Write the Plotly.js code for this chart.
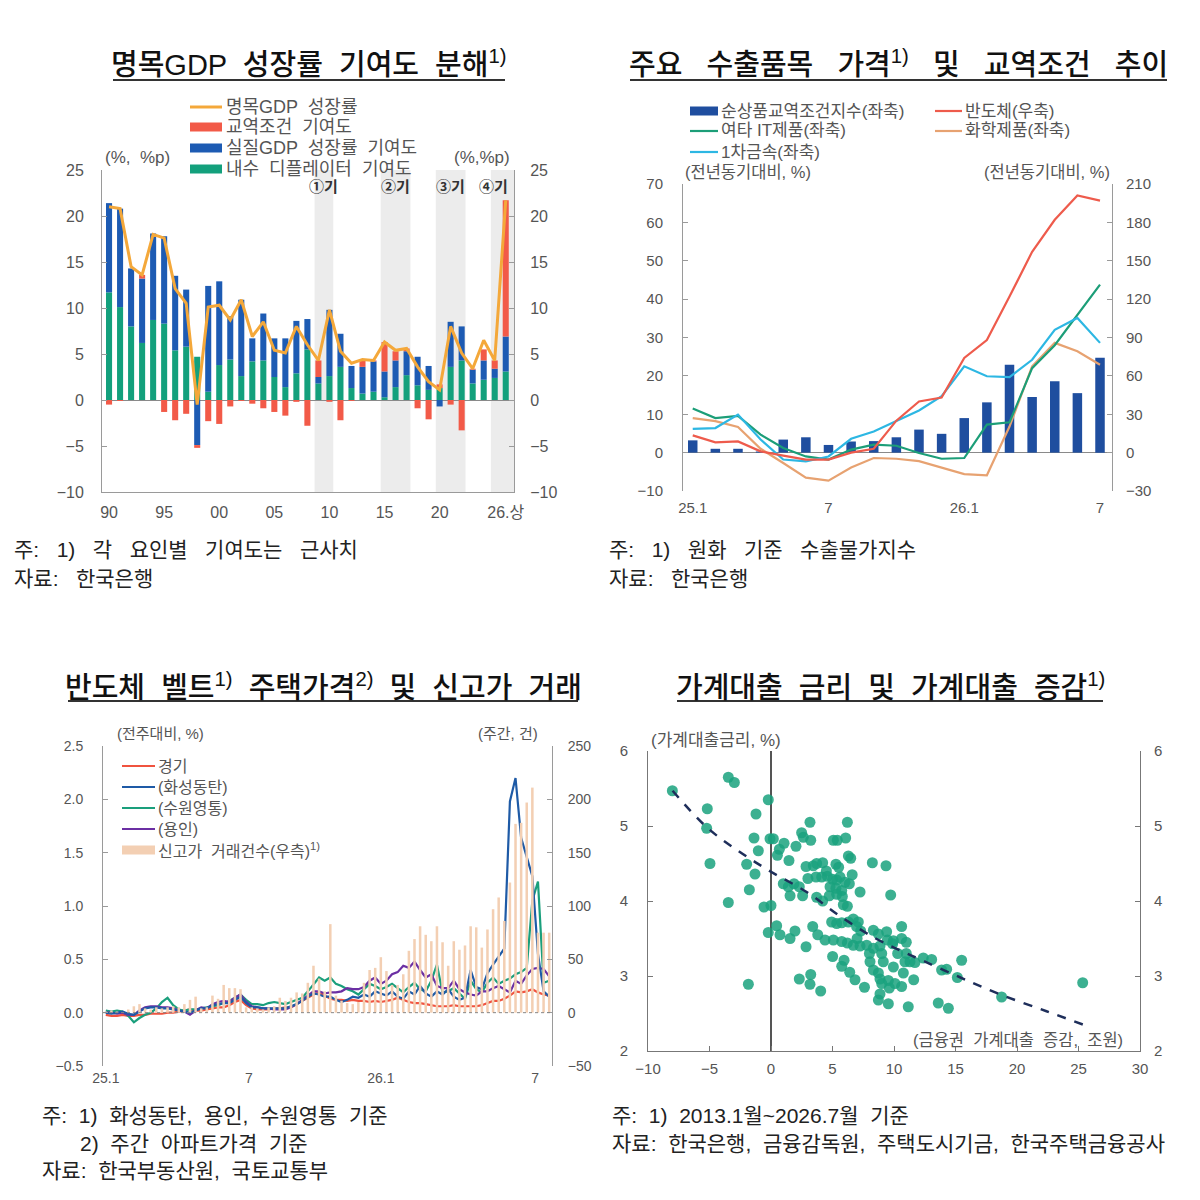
<!DOCTYPE html>
<html><head><meta charset="utf-8">
<script src="https://cdn.plot.ly/plotly-3.0.1.min.js"></script>
<style>body{margin:0;background:#fff}#chart{width:1200px;height:1200px}</style>
</head><body><div id="chart"></div>
<script>
// ===== Panel 1: 명목GDP 성장률 기여도 분해 =====
const p1Categories = ['1990','1991','1992','1993','1994','1995','1996','1997','1998','1999',
  '2000','2001','2002','2003','2004','2005','2006','2007','2008','2009',
  '2010','2011','2012','2013','2014','2015','2016','2017','2018','2019',
  '2020','2021','2022','2023','2024','2025','26.상'];
const p1Deflator = [11.7,10.1,8.0,6.2,8.7,8.3,5.4,5.8,4.7,0.9, 3.8,4.4,2.6,4.2,4.3,2.5,1.4,2.9,5.5,1.8, 2.6,3.6,1.3,0.7,0.9,0.3,1.4,2.7,1.6,1.1, 1.3,3.6,4.3,1.8,2.2,2.4,3.1];
const p1RealGDP = [9.7,10.7,6.3,7.0,9.4,9.5,8.1,6.2,-4.9,11.5, 9.1,4.7,8.3,2.5,5.1,4.2,5.3,5.7,3.3,0.7, 7.2,3.6,2.4,2.9,3.3,2.8,2.9,2.6,3.1,2.6, -0.7,4.9,3.7,1.5,2.1,1.0,3.8];
const p1TradeTerms = [-0.5,-0.1,0,0.4,0,-1.3,-2.2,-1.5,-0.3,-2.3, -2.6,-0.7,-0.1,-0.4,-0.9,-1.3,-1.7,-0.2,-2.8,1.8, -0.2,-2.2,-0.1,0.8,0.1,3.2,1.0,0.3,-0.9,-2.1, 0.4,-0.5,-3.3,0.1,1.2,0.9,14.8];
const p1Nominal = [21.0,20.8,14.5,13.6,18.0,17.6,12.1,10.5,-0.5,10.1, 10.3,8.7,10.9,6.9,8.5,5.4,5.1,8.0,6.0,4.3, 9.8,5.3,4.0,4.4,4.3,6.3,5.4,5.6,3.6,2.0, 1.1,8.0,5.1,3.4,6.5,4.3,21.7];
const p1TickVals = ['1990','1995','2000','2005','2010','2015','2020','26.상'];
const p1TickText = ['90','95','00','05','10','15','20','26.상'];
const p1PeriodLabels = ['①기','②기','③기','④기'];
const p1PeriodStart = ['2009','2015','2020','2025'];
const p1PeriodEnd = ['2010','2017','2022','26.상'];
const p1LegendNames = ['명목GDP  성장률','교역조건  기여도','실질GDP  성장률  기여도','내수  디플레이터  기여도'];

// ===== Panel 2: 주요 수출품목 가격 및 교역조건 추이 =====
const p2Months = ['25.1','25.2','25.3','25.4','25.5','25.6','25.7','25.8','25.9','25.10','25.11','25.12',
  '26.1','26.2','26.3','26.4','26.5','26.6','26.7'];
const p2TermsOfTrade = [3.2,1.0,1.0,0.3,3.4,4.0,2.0,2.9,3.0,4.0,6.0,4.9,9.0,13.1,22.9,14.5,18.6,15.5,24.7];
const p2Semiconductor = [13.5,8,8.8,1,-2.3,-5.5,-5.5,0,3,25,40,43,74,88,122,157,182,201,197];
const p2OtherIT = [11.5,9.0,9.6,4.7,1.2,-1.0,-1.8,0.8,2.1,1.8,-0.1,-1.6,-1.4,7.3,7.9,22,28,36,43.8];
const p2Chemical = [9.0,8.2,6.7,1.0,-2.7,-6.5,-7.3,-3.9,-1.4,-1.6,-2.2,-3.8,-5.6,-5.9,6.8,22.5,28.6,26.4,22.9];
const p2Metals = [6.2,6.4,9.9,3.4,-1.8,-2.3,-1.0,3.6,5.5,8.3,11.0,14.7,22.5,19.9,19.7,24.2,32.0,35.1,28.6];
const p2TickVals = ['25.1','25.7','26.1','26.7'];
const p2TickText = ['25.1','7','26.1','7'];
const p2LegendNames = ['순상품교역조건지수(좌축)','여타 IT제품(좌축)','1차금속(좌축)','반도체(우축)','화학제품(좌축)'];

// ===== Panel 3: 반도체 벨트 주택가격 및 신고가 거래 (주간) =====
const p3NewHighDeals = [1,2,1,0,3,6,8,4,3,5, 4,5,6,5,8,12,15,4,5,16, 13,26,23,23,22,5,5,4,3,5, 6,14,11,14,19,18,28,44,32,20,
  83,16,11,9,8,10,28,40,42,52, 39,26,26,36,58,69,81,73,67,81, 66,44,67,59,63,81,80,61,78,97, 108,86,122,177,178,197,211,75,75,75];
const p3Gyeonggi = [-0.02,-0.03,-0.03,-0.02,-0.03,-0.03,-0.02,-0.02,-0.01,-0.01, -0.01,0.0,0.0,0.01,0.02,0.03,0.02,0.02,0.03,0.04,
  0.05,0.05,0.07,0.1,0.12,0.07,0.04,0.03,0.03,0.03, 0.04,0.04,0.05,0.05,0.08,0.11,0.14,0.17,0.19,0.16,
  0.13,0.12,0.12,0.11,0.12,0.11,0.11,0.1,0.11,0.1, 0.11,0.12,0.14,0.12,0.1,0.09,0.09,0.08,0.07,0.06,
  0.06,0.06,0.07,0.06,0.06,0.06,0.06,0.07,0.09,0.11, 0.11,0.13,0.16,0.2,0.19,0.2,0.22,0.19,0.17,0.16];
const p3Hwaseong = [0.0,-0.01,0.0,0.01,-0.01,-0.02,0.01,0.04,0.05,0.05, 0.04,0.04,0.03,0.02,0.01,0.0,0.02,0.04,0.04,0.07,
  0.08,0.09,0.09,0.12,0.15,0.09,0.05,0.05,0.04,0.04, 0.04,0.04,0.04,0.06,0.08,0.11,0.15,0.18,0.17,0.15,
  0.15,0.12,0.1,0.12,0.15,0.14,0.17,0.15,0.2,0.18, 0.16,0.2,0.15,0.13,0.2,0.17,0.25,0.18,0.15,0.2,
  0.17,0.22,0.15,0.12,0.14,0.4,0.24,0.22,0.37,0.45, 0.52,0.6,1.98,2.2,1.64,1.45,1.28,0.55,0.2,0.15];
const p3Suwon = [0.02,0.01,0.02,0.01,-0.03,-0.09,-0.05,-0.02,0.0,0.04, 0.1,0.14,0.07,0.03,0.02,0.03,0.03,0.04,0.05,0.06,
  0.07,0.09,0.11,0.14,0.17,0.12,0.08,0.08,0.07,0.09, 0.1,0.09,0.08,0.1,0.12,0.14,0.2,0.27,0.33,0.3,
  0.33,0.27,0.25,0.22,0.2,0.17,0.22,0.27,0.25,0.22, 0.24,0.27,0.23,0.19,0.24,0.28,0.22,0.2,0.3,0.45,
  0.19,0.2,0.23,0.18,0.13,0.3,0.22,0.19,0.28,0.33, 0.27,0.3,0.32,0.36,0.38,0.42,1.05,1.23,0.28,0.3];
const p3Yongin = [0.0,0.0,-0.01,0.0,-0.02,-0.02,0.02,0.05,0.06,0.06, 0.05,0.05,0.04,0.02,0.01,-0.02,0.02,0.05,0.04,0.08,
  0.1,0.11,0.1,0.14,0.17,0.1,0.06,0.05,0.04,0.04, 0.03,0.03,0.03,0.05,0.08,0.12,0.16,0.2,0.2,0.18,
  0.19,0.19,0.2,0.23,0.22,0.22,0.24,0.3,0.33,0.27, 0.3,0.36,0.38,0.44,0.42,0.48,0.4,0.33,0.36,0.25,
  0.23,0.23,0.3,0.22,0.19,0.17,0.16,0.2,0.2,0.23, 0.25,0.22,0.19,0.3,0.27,0.35,0.41,0.42,0.41,0.34];
const p3TickVals = [0, 25.5, 49, 76.5];
const p3TickText = ['25.1','7','26.1','7'];
const p3LegendNames = ['경기','(화성동탄)','(수원영통)','(용인)','신고가  거래건수(우측)<sup>1)</sup>'];

// ===== Panel 4: 가계대출 금리 및 가계대출 증감 =====
const p4LoanChange = [-8.02,-3.47,-2.98,-5.18,-0.22,-1.22,-5.23,-1.38,-0.08,0.19, 3.17,6.21,-4.96,-1.98,-1.03,-1.3,-1.76,-3.47,-0.57,0.0, -0.22,-1.84,
  1.06,0.68,0.52,2.03,2.49,2.63,3.23,5.07,5.39,6.07, 1.46,2.85,3.44,3.71,4.2,5.28,6.29,6.48,8.24,9.35,
  1.0,1.41,1.87,2.3,1.55,2.57,3.66,4.12,4.58,5.01, 5.34,5.61,6.02,6.37,4.8,5.28,5.75,3.71,4.74,5.34, 5.8,7.24,9.73,5.88,6.21,
  0.46,0.73,1.55,1.95,3.39,2.85,4.93,5.34,5.75,6.29, 6.69,7.1,6.96,7.29,8.32,8.73,9.4,9.95,4.39,5.07, 5.75,6.21,6.69,7.24,7.78,8.32,8.86,9.46,9.89,
  5.01,5.75,5.94,8.05,8.32,8.73,9.13,8.86,9.54,10.08, 9.62,8.86,8.73,9.54,2.3,3.23,3.17,4.04,6.83,9.95,
  10.62,10.89,11.3,11.7,12.38,13.06,13.87,14.28,15.15,15.5, 18.75,25.34,13.6,14.42,11.16,10.62,10.76,10.62,11.0,
  4.5,5.5,3.0,6.6,4.2,7.0,8.0,9.0,10.3,11.6, 3.8,6.4,7.6,9.0,11.0];
const p4LoanRate = [5.47,5.65,5.58,5.23,5.35,5.16,4.97,4.84,4.83,4.83, 5.05,5.05,4.5,4.49,4.67,4.36,4.15,3.98,3.92,3.94, 3.58,2.89,
  4.77,4.69,4.61,4.73,4.91,4.85,4.81,4.81,4.81,4.84, 4.54,4.46,4.47,4.5,4.51,4.49,4.6,4.57,4.51,4.47,
  4.23,4.19,4.23,4.19,4.07,4.07,4.32,4.32,4.33,4.29, 4.28,4.32,4.25,4.23,4.19,4.17,4.14,4.05,4.07,4.09, 4.06,4.12,4.08,3.95,3.93,
  3.67,3.55,3.5,3.6,3.66,3.39,3.72,3.7,3.71,3.72, 3.76,3.72,3.66,3.6,3.61,3.56,3.59,3.47,3.48,3.48, 3.46,3.44,3.41,3.4,3.41,3.37,3.4,3.48,3.43,
  3.26,3.13,3.21,3.19,3.08,3.04,3.19,2.96,2.94,2.9, 2.84,2.76,2.68,2.63,2.96,3.02,2.89,2.8,2.95,3.12,
  3.66,3.19,3.19,3.18,3.24,3.22,3.08,3.09,2.98,3.21, 2.72,2.91,2.64,2.57,2.59,3.5,3.04,2.86,3.3,
  4.4,4.45,4.3,4.35,4.0,3.5,3.3,3.3,3.3,2.95, 3.55,3.05,2.85,2.9,3.45];
const p4TrendX = [-8.0,-5.2,-2.5,0,2.9,5.6,8.3,10.5,12.4,15.4,18.7,22.4,25.4];
const p4TrendY = [5.47,4.98,4.65,4.39,4.12,3.8,3.52,3.34,3.2,2.98,2.75,2.53,2.35];

// ===== styling =====
const FONT = 'Liberation Sans, Noto Sans CJK KR, sans-serif';
const TXT = '#555';
const C1 = {green:'#13A07C', blue:'#1D5BB3', red:'#F25A48', gold:'#F4A83A'};
const C2 = {bar:'#1F4E9F', red:'#EE5B4C', green:'#1C9E78', orange:'#E7A271', cyan:'#2DB7E3'};
const C3 = {red:'#F0533F', blue:'#1E5AA6', green:'#1A9F7C', purple:'#6B2FA3', bar:'#F3CFB3'};
const C4 = {dot:'#1AA27E', trend:'#1E2E5A'};
const PX = v => v/1200, PY = v => 1 - v/1200;

const traces = [];
// Panel 1
traces.push({type:'bar', x:p1Categories, y:p1Deflator, xaxis:'x', yaxis:'y', width:0.55, marker:{color:C1.green}, name:'내수 디플레이터 기여도'});
traces.push({type:'bar', x:p1Categories, y:p1RealGDP, xaxis:'x', yaxis:'y', width:0.55, marker:{color:C1.blue}, name:'실질GDP 성장률 기여도'});
traces.push({type:'bar', x:p1Categories, y:p1TradeTerms, xaxis:'x', yaxis:'y', width:0.55, marker:{color:C1.red}, name:'교역조건 기여도'});
traces.push({type:'scatter', mode:'lines', x:p1Categories, y:p1Nominal, xaxis:'x', yaxis:'y', line:{color:C1.gold, width:3}, name:'명목GDP 성장률'});
traces.push({type:'scatter', mode:'lines', x:[null], y:[null], xaxis:'x', yaxis:'y2', hoverinfo:'skip'}); // draws right axis
// Panel 2
traces.push({type:'bar', x:p2Months, y:p2TermsOfTrade, xaxis:'x2', yaxis:'y3', width:0.42, marker:{color:C2.bar}, name:'순상품교역조건지수(좌축)'});
traces.push({type:'scatter', mode:'lines', x:p2Months, y:p2Chemical, xaxis:'x2', yaxis:'y3', line:{color:C2.orange, width:2.2}, name:'화학제품(좌축)'});
traces.push({type:'scatter', mode:'lines', x:p2Months, y:p2OtherIT, xaxis:'x2', yaxis:'y3', line:{color:C2.green, width:2.2}, name:'여타 IT제품(좌축)'});
traces.push({type:'scatter', mode:'lines', x:p2Months, y:p2Metals, xaxis:'x2', yaxis:'y3', line:{color:C2.cyan, width:2.2}, name:'1차금속(좌축)'});
traces.push({type:'scatter', mode:'lines', x:p2Months, y:p2Semiconductor, xaxis:'x2', yaxis:'y4', line:{color:C2.red, width:2.2}, name:'반도체(우축)'});
// Panel 3
traces.push({type:'bar', y:p3NewHighDeals, xaxis:'x3', yaxis:'y6', width:0.45, marker:{color:C3.bar}, name:'신고가 거래건수(우측)'});
traces.push({type:'scatter', mode:'lines', y:p3Gyeonggi, xaxis:'x3', yaxis:'y5', line:{color:C3.red, width:2.2}, name:'경기'});
traces.push({type:'scatter', mode:'lines', y:p3Suwon, xaxis:'x3', yaxis:'y5', line:{color:C3.green, width:2.2}, name:'(수원영통)'});
traces.push({type:'scatter', mode:'lines', y:p3Yongin, xaxis:'x3', yaxis:'y5', line:{color:C3.purple, width:2.2}, name:'(용인)'});
traces.push({type:'scatter', mode:'lines', y:p3Hwaseong, xaxis:'x3', yaxis:'y5', line:{color:C3.blue, width:2.2}, name:'(화성동탄)'});
// Panel 4
traces.push({type:'scatter', mode:'markers', x:p4LoanChange, y:p4LoanRate, xaxis:'x4', yaxis:'y7', marker:{color:C4.dot, size:11, opacity:0.85}, name:'가계대출'});
traces.push({type:'scatter', mode:'lines', x:p4TrendX, y:p4TrendY, xaxis:'x4', yaxis:'y7', line:{color:C4.trend, width:2.5, dash:'dash', shape:'spline'}, name:'추세'});
traces.push({type:'scatter', mode:'lines', x:[null], y:[null], xaxis:'x4', yaxis:'y8', hoverinfo:'skip'}); // draws right axis

const tf = s => ({family:FONT, size:s, color:TXT});
const yBase = {showgrid:false, showline:true, linecolor:'#9a9a9a', linewidth:1, ticks:'inside', ticklen:5, tickcolor:'#9a9a9a', zeroline:false, fixedrange:true};

const layout = {
  width:1200, height:1200, margin:{l:0,r:0,t:0,b:0},
  paper_bgcolor:'#fff', plot_bgcolor:'rgba(0,0,0,0)',
  font:{family:FONT, color:TXT},
  barmode:'relative', showlegend:false,
  xaxis:{domain:[PX(102),PX(514)], anchor:'y', type:'category', range:[-0.64,36.75], tickvals:p1TickVals, ticktext:p1TickText,
    showline:true, linecolor:'#9a9a9a', ticks:'', showgrid:false, zeroline:false, tickfont:tf(16), ticklabelstandoff:6},
  yaxis:Object.assign({}, yBase, {domain:[PY(492),PY(170)], anchor:'x', range:[-10,25], dtick:5, tickfont:tf(16), ticklabelstandoff:14,
    zeroline:true, zerolinecolor:'#8a8a8a', zerolinewidth:1}),
  yaxis2:Object.assign({}, yBase, {overlaying:'y', side:'right', anchor:'x', range:[-10,25], dtick:5, tickfont:tf(16), ticklabelstandoff:12}),
  xaxis2:{domain:[PX(683),PX(1112)], anchor:'y3', type:'category', range:[-0.43,18.53], tickvals:p2TickVals, ticktext:p2TickText,
    showline:false, ticks:'', showgrid:false, zeroline:false, tickfont:tf(15), ticklabelstandoff:6},
  yaxis3:Object.assign({}, yBase, {domain:[PY(491),PY(184)], anchor:'x2', range:[-10,70], dtick:10, tickfont:tf(15), ticklabelstandoff:16,
    zeroline:true, zerolinecolor:'#8a8a8a', zerolinewidth:1}),
  yaxis4:Object.assign({}, yBase, {overlaying:'y3', side:'right', anchor:'x2', range:[-30,210], dtick:30, tickfont:tf(15), ticklabelstandoff:10}),
  xaxis3:{domain:[PX(103),PX(552)], anchor:'y5', range:[-0.5,79.5], tickvals:p3TickVals, ticktext:p3TickText,
    showline:false, ticks:'', showgrid:false, zeroline:false, tickfont:tf(14), ticklabelstandoff:2},
  yaxis5:Object.assign({}, yBase, {domain:[PY(1066),PY(746)], anchor:'x3', range:[-0.5,2.5], dtick:0.5, tickformat:'.1f', tickfont:tf(14), ticklabelstandoff:16}),
  yaxis6:Object.assign({}, yBase, {overlaying:'y5', side:'right', anchor:'x3', range:[-50,250], dtick:50, tickfont:tf(14), ticklabelstandoff:12}),
  xaxis4:{domain:[PX(648),PX(1140)], anchor:'y7', range:[-10,30], dtick:5, showline:true, linecolor:'#777', ticks:'inside', ticklen:5, tickcolor:'#777',
    showgrid:false, zeroline:true, zerolinecolor:'#555', zerolinewidth:1.5, tickfont:tf(15), ticklabelstandoff:4},
  yaxis7:Object.assign({}, yBase, {domain:[PY(1051),PY(751)], anchor:'x4', range:[2,6], dtick:1, linecolor:'#777', tickcolor:'#777', tickfont:tf(15), ticklabelstandoff:16}),
  yaxis8:Object.assign({}, yBase, {overlaying:'y7', side:'right', anchor:'x4', range:[2,6], dtick:1, linecolor:'#777', tickcolor:'#777', tickfont:tf(15), ticklabelstandoff:10}),
  shapes:[], annotations:[]
};

// Legends: symbol + text, drawn as shapes and annotations
function addLegend(names, colors, kinds, symX0, symX1, textX, rows, size){
  names.forEach((n,i)=>{
    const y = rows[i];
    if(kinds[i] === 'box'){
      layout.shapes.push({type:'rect', xref:'paper', yref:'paper', x0:PX(symX0), x1:PX(symX1), y0:PY(y+4.5), y1:PY(y-4.5), fillcolor:colors[i], line:{width:0}});
    } else {
      layout.shapes.push({type:'line', xref:'paper', yref:'paper', x0:PX(symX0), x1:PX(symX1), y0:PY(y), y1:PY(y), line:{color:colors[i], width:kinds[i]==='thick'?3:2.2}});
    }
    layout.annotations.push({xref:'paper', yref:'paper', x:PX(textX), y:PY(y), xanchor:'left', yanchor:'middle', text:n, showarrow:false, font:{family:FONT, size:size, color:TXT}});
  });
}
addLegend(p1LegendNames, [C1.gold, C1.red, C1.blue, C1.green], ['thick','box','box','box'], 190, 222, 224, [107,127,148,169], 18);
addLegend(p2LegendNames.slice(0,3), [C2.bar, C2.green, C2.cyan], ['box','line','line'], 690, 718, 719, [111,131,152], 17);
addLegend(p2LegendNames.slice(3), [C2.red, C2.orange], ['line','line'], 935, 962, 963, [111,131], 17);
addLegend(p3LegendNames, [C3.red, C3.blue, C3.green, C3.purple, C3.bar], ['line','line','line','line','box'], 122, 155, 156, [766,787,808,829,850], 16);

// Panel 1 shaded periods
p1PeriodStart.forEach((s,i)=>{
  const a = p1Categories.indexOf(s) - 0.35;
  const e = p1PeriodEnd[i];
  const b = (i === p1PeriodStart.length-1) ? 36.75 : p1Categories.indexOf(e) + 0.35;
  layout.shapes.push({type:'rect', xref:'x', yref:'y domain', x0:a, x1:b, y0:0, y1:1, fillcolor:'#ececec', line:{width:0}, layer:'below'});
  layout.annotations.push({xref:'x', yref:'paper', x:(a+Math.min(b,35.2))/2, y:PY(186), xanchor:'center', yanchor:'middle', text:'<b>'+p1PeriodLabels[i]+'</b>', showarrow:false, font:{family:FONT, size:15, color:'#333'}});
});
// Panel 3 dotted zero line
layout.shapes.push({type:'line', xref:'x3 domain', x0:0, x1:1, yref:'y5', y0:0, y1:0, line:{color:'#888', width:1, dash:'dot'}});

// Titles with underline
const titles = [
  ['명목GDP  성장률  기여도  분해<sup>1)</sup>', 309, 63, 113, 505, 80],
  ['주요   수출품목   가격<sup>1)</sup>   및   교역조건   추이', 898, 63, 630, 1167, 80],
  ['반도체  벨트<sup>1)</sup>  주택가격<sup>2)</sup>  및  신고가  거래', 323, 686, 68, 578, 701],
  ['가계대출  금리  및  가계대출  증감<sup>1)</sup>', 890, 686, 677, 1103, 701]
];
titles.forEach(t=>{
  layout.annotations.push({xref:'paper', yref:'paper', x:PX(t[1]), y:PY(t[2]), xanchor:'center', yanchor:'middle', text:t[0], showarrow:false, font:{family:FONT, size:29, color:'#111', weight:500}});
  layout.shapes.push({type:'line', xref:'paper', yref:'paper', x0:PX(t[3]), x1:PX(t[4]), y0:PY(t[5]), y1:PY(t[5]), line:{color:'#333', width:2}});
});

// Axis unit labels
const units = [
  ['(%,  %p)',137,157,17],['(%,%p)',482,157,17],
  ['(전년동기대비, %)',748,172,16.5],['(전년동기대비, %)',1047,172,16.5],
  ['(전주대비, %)',160,733,15],['(주간, 건)',508,733,15],
  ['(가계대출금리, %)',716,740,17],['(금융권  가계대출  증감,  조원)',1018,1040,16.5]
];
units.forEach(u=>layout.annotations.push({xref:'paper', yref:'paper', x:PX(u[1]), y:PY(u[2]), xanchor:'center', yanchor:'middle', text:u[0], showarrow:false, font:{family:FONT, size:u[3], color:TXT}}));

// Footnotes
const notes = [
  ['주:   1)   각   요인별   기여도는   근사치',12,549],['자료:   한국은행',12,579],
  ['주:   1)   원화   기준   수출물가지수',607,549],['자료:   한국은행',607,579],
  ['주:  1)  화성동탄,  용인,  수원영통  기준',40,1115],['2)  주간  아파트가격  기준',78,1143],['자료:  한국부동산원,  국토교통부',40,1170],
  ['주:  1)  2013.1월~2026.7월  기준',610,1115],['자료:  한국은행,  금융감독원,  주택도시기금,  한국주택금융공사',610,1143]
];
notes.forEach(n=>layout.annotations.push({xref:'paper', yref:'paper', x:PX(n[1]), y:PY(n[2]), xanchor:'left', yanchor:'middle', text:n[0], showarrow:false, font:{family:FONT, size:21, color:'#222'}}));

Plotly.newPlot('chart', traces, layout, {staticPlot:true});
</script></body></html>
